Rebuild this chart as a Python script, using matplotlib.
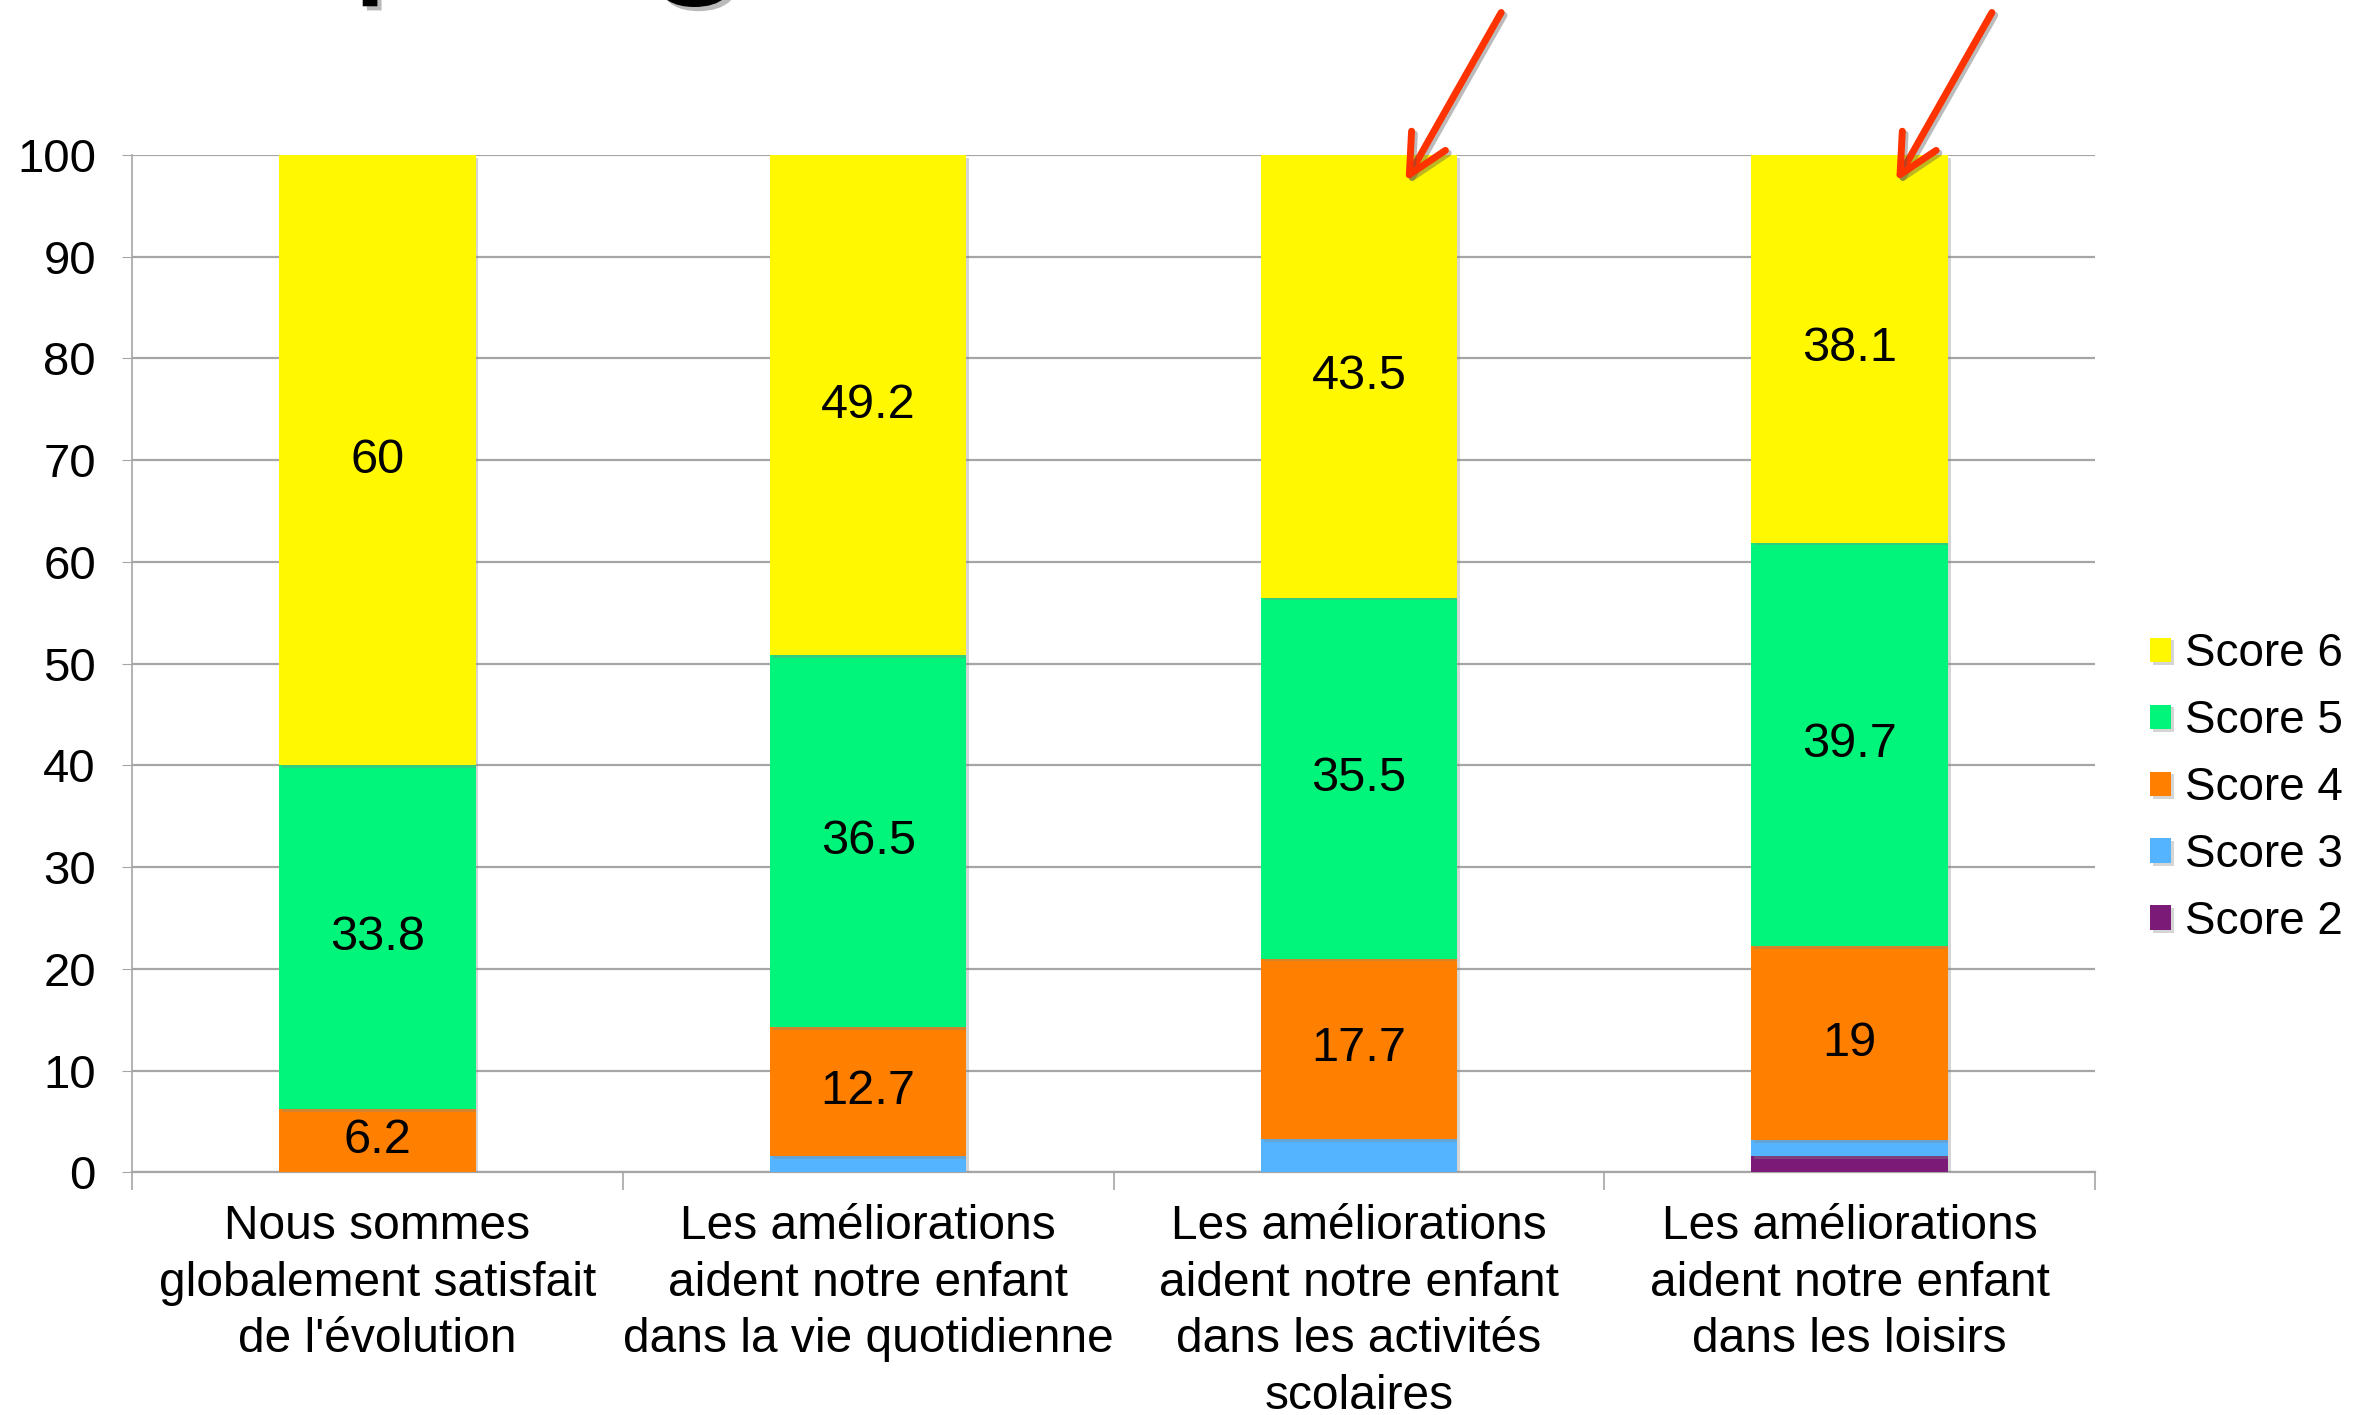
import matplotlib.pyplot as plt
import matplotlib.patheffects as pe
import numpy as np

plt.rcParams['font.family'] = ['Liberation Sans', 'DejaVu Sans']

# Data
categories = [
    "Nous sommes\nglobalement satisfait\nde l'évolution",
    "Les améliorations\naident notre enfant\ndans la vie quotidienne",
    "Les améliorations\naident notre enfant\ndans les activités\nscolaires",
    "Les améliorations\naident notre enfant\ndans les loisirs",
]
score2 = [0, 0, 0, 1.6]
score3 = [0, 1.6, 3.3, 1.6]
score4 = [6.2, 12.7, 17.7, 19]
score5 = [33.8, 36.5, 35.5, 39.7]
score6 = [60, 49.2, 43.5, 38.1]

series = [
    ("Score 2", score2, "#7B1A77", False),
    ("Score 3", score3, "#55B4FF", False),
    ("Score 4", score4, "#FF7F00", True),
    ("Score 5", score5, "#00F57A", True),
    ("Score 6", score6, "#FFF800", True),
]

fig = plt.figure(figsize=(23.75, 14.15), dpi=100)
ax = fig.add_axes([0.0556, 0.1715, 0.8265, 0.719])

x = np.arange(len(categories))
bottom = np.zeros(len(categories))
handles = []
shadow = [pe.SimplePatchShadow(offset=(2, -2), shadow_rgbFace='#888888', alpha=0.35), pe.Normal()]
for name, vals, color, show in series:
    vals = np.array(vals, dtype=float)
    bars = ax.bar(x, vals, 0.40, bottom=bottom, color=color, label=name, zorder=3)
    for b in bars:
        b.set_path_effects(shadow)
    if show:
        for xi, v, b0 in zip(x, vals, bottom):
            ax.text(xi, b0 + v / 2, f"{v:g}", ha='center', va='center', fontsize=35, zorder=5)
    handles.append(bars)
    bottom += vals

# Axes styling
ax.set_xlim(-0.5, 3.5)
ax.set_ylim(0, 100)
ax.set_yticks(np.arange(0, 101, 10))
ax.yaxis.grid(True, color='#A6A6A6', linewidth=1.6, zorder=0)
ax.set_axisbelow(True)
for side in ['top', 'right']:
    ax.spines[side].set_visible(False)
ax.spines['left'].set_color('#A6A6A6')
ax.spines['bottom'].set_color('#A6A6A6')
ax.spines['left'].set_linewidth(1.2)
ax.spines['bottom'].set_linewidth(1.6)
ax.tick_params(axis='y', labelsize=34, length=7, color='#A6A6A6', pad=19)
ax.set_xticks(x)
ax.set_xticklabels(categories, fontsize=34.5, linespacing=1.33)
ax.set_xticks(np.arange(-0.5, 4, 1), minor=True)
ax.tick_params(axis='x', which='major', length=0, pad=23)
ax.tick_params(axis='x', which='minor', length=13, color='#A6A6A6', width=1.2)

# Legend
ax.legend(handles[::-1], [s[0] for s in series][::-1], loc='center left',
          bbox_to_anchor=(0.888, 0.443), bbox_transform=fig.transFigure,
          frameon=False, fontsize=33, handlelength=0.45, handleheight=0.45,
          handletextpad=0.3, labelspacing=0.5)

# Red arrows
arrow_shadow = [pe.SimpleLineShadow(offset=(2, -2), shadow_color='#555555', alpha=0.4), pe.Normal()]
for xi in [2, 3]:
    a = ax.annotate("", xy=(xi + 0.095, 97.4), xytext=(xi + 0.29, 114.0),
                    arrowprops=dict(arrowstyle="->,head_length=1.4,head_width=0.7",
                                    color="#FF3300", lw=5, mutation_scale=20,
                                    shrinkA=0, shrinkB=0),
                    annotation_clip=False, zorder=6)
    a.arrow_patch.set_path_effects(arrow_shadow)

# Cut-off title fragments at the top
title_shadow = [pe.SimplePatchShadow(offset=(3, -3), shadow_rgbFace='#777777', alpha=0.5), pe.Normal()]
fig.text(0.148, 1.02, "p", fontsize=120, va='baseline', path_effects=title_shadow)
fig.text(0.272, 1.02, "g", fontsize=120, va='baseline', fontweight='bold', path_effects=title_shadow)

fig.savefig("out.png", dpi=100)
